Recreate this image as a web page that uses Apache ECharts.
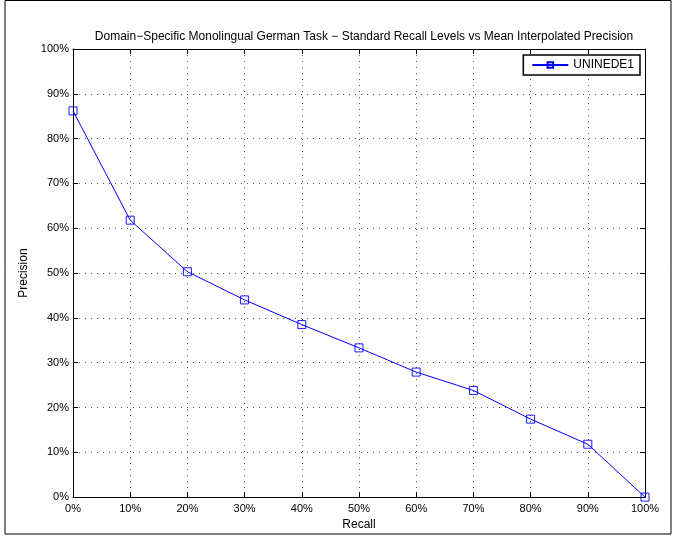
<!DOCTYPE html>
<html><head><meta charset="utf-8">
<script src="https://cdn.jsdelivr.net/npm/echarts@6/dist/echarts.min.js"></script>
<style>html,body{margin:0;padding:0;background:#fff}#c{width:673px;height:536px}</style>
</head><body><div id="c"></div>
<script>
const recallLevels = [0, 10, 20, 30, 40, 50, 60, 70, 80, 90, 100];
const precisionUNINEDE1 = [86.2, 61.8, 50.3, 44.0, 38.5, 33.3, 27.9, 23.8, 17.4, 11.8, 0];
const seriesName = 'UNINEDE1';
const titleText = 'Domain\u2212Specific Monolingual German Task \u2212 Standard Recall Levels vs Mean Interpolated Precision';

const font = 'Liberation Sans, Arial, Helvetica, sans-serif';
const chart = echarts.init(document.getElementById('c'));
const axisCommon = {
  type: 'value', min: 0, max: 100, interval: 10,
  axisLine: { show: true, onZero: false, lineStyle: { color: '#000', width: 1 } },
  axisTick: { show: true, inside: true, length: 5, lineStyle: { color: '#000' } }
};
chart.setOption({
  animation: false,
  backgroundColor: '#fff',
  title: {
    text: titleText, left: 359, top: 26, textAlign: 'center',
    textStyle: { fontFamily: font, fontSize: 12, fontWeight: 'normal', color: '#000' }
  },
  grid: { left: 73, top: 49, right: 28, bottom: 37, containLabel: false },
  legend: {
    right: 33, top: 55, orient: 'vertical',
    backgroundColor: '#fff', borderColor: '#000', borderWidth: 1.5, borderRadius: 0,
    padding: [4, 6, 4, 8], itemWidth: 36, itemHeight: 7, itemGap: 4,
    textStyle: { fontFamily: font, fontSize: 12, color: '#000' },
    data: [seriesName]
  },
  xAxis: [
    Object.assign({}, axisCommon, {
      position: 'bottom', name: 'Recall', nameLocation: 'middle', nameGap: 19,
      nameTextStyle: { fontFamily: font, fontSize: 12, color: '#000' },
      axisLabel: { formatter: '{value}%', fontFamily: font, fontSize: 11, color: '#000', margin: 6 },
      splitLine: { show: true, lineStyle: { color: '#555', type: [1, 5], width: 1 } }
    }),
    Object.assign({}, axisCommon, { position: 'top', axisLabel: { show: false }, splitLine: { show: false } })
  ],
  yAxis: [
    Object.assign({}, axisCommon, {
      position: 'left', name: 'Precision', nameLocation: 'middle', nameGap: 40, nameRotate: 90,
      nameTextStyle: { fontFamily: font, fontSize: 12, color: '#000' },
      axisLabel: { formatter: '{value}%', fontFamily: font, fontSize: 11, color: '#000', margin: 4 },
      splitLine: { show: true, lineStyle: { color: '#555', type: [1, 5], width: 1 } }
    }),
    Object.assign({}, axisCommon, { position: 'right', axisLabel: { show: false }, splitLine: { show: false } })
  ],
  series: [{
    name: seriesName, type: 'line',
    data: recallLevels.map((r, i) => [r, precisionUNINEDE1[i]]),
    symbol: 'rect', symbolSize: 8,
    itemStyle: { color: 'rgba(255,255,255,0)', borderColor: '#0000ff', borderWidth: 0.9 },
    lineStyle: { color: '#0000ff', width: 1 },
    clip: false
  }],
  graphic: [{
    type: 'rect', shape: { x: 5, y: 0.5, width: 666, height: 533.5 },
    style: { fill: null, stroke: '#000', lineWidth: 1 }, silent: true, z: -10
  }]
});
</script></body></html>
